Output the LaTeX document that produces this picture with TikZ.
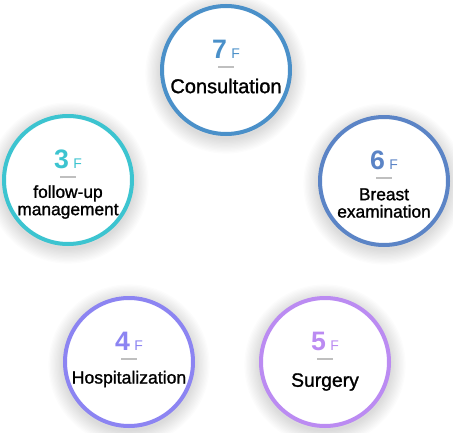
\documentclass[tikz,border=0pt]{standalone}
\usepackage{fontspec}
\setmainfont{Liberation Sans}
\newfontfamily\labfont{Liberation Sans}[FakeBold=1.3]
\usetikzlibrary{calc}
\definecolor{cseven}{HTML}{4A90C9}
\definecolor{cthree}{HTML}{3CC4D0}
\definecolor{csix}{HTML}{5B84C6}
\definecolor{cfour}{HTML}{8C84F2}
\definecolor{cfive}{HTML}{BB8BF2}

\begin{document}
\begin{tikzpicture}[x=0.75pt,y=-0.75pt,
  ring/.style={circle,draw,line width=3pt,fill=white,minimum size=96pt,inner sep=0pt},
  num/.style={anchor=base,inner sep=0pt,font=\fontsize{20}{20}\selectfont\bfseries},
  lab/.style={align=center,inner sep=0pt,font=\labfont}]
\useasboundingbox (0,0) rectangle (453,432);
\foreach \id/\cx/\cy/\col/\num/\txt/\dy/\fs in {
    cons/226/70/cseven/7/Consultation/16/15,
    follow/68/180/cthree/3/{follow-up\\management}/22/13,
    breast/384/181/csix/6/{Breast\\examination}/22/13,
    hosp/129/362/cfour/4/Hospitalization/17/13.2,
    surg/325/362/cfive/5/Surgery/20/14.5} {
  % soft shadow
  \foreach \r in {1,...,12}
    \fill[black,opacity=0.01] (\cx,\cy+3) circle (65+\r*1.3);
  \node[ring,draw=\col] (\id) at (\cx,\cy) {};
  \node[num,text=\col] (\id-num) at ($(\id.center)+(0,-12)$)
    {\num\,{\mdseries\fontsize{10.5}{11}\selectfont F}};
  \draw[black!25,line width=0.8pt] ($(\id.center)+(-8,-3)$) -- ($(\id.center)+(8,-3)$);
  \node[lab,font=\labfont\fontsize{\fs}{\fs}\selectfont] (\id-lab) at ($(\id.center)+(0,\dy)$) {\txt};
}
\end{tikzpicture}
\end{document}
